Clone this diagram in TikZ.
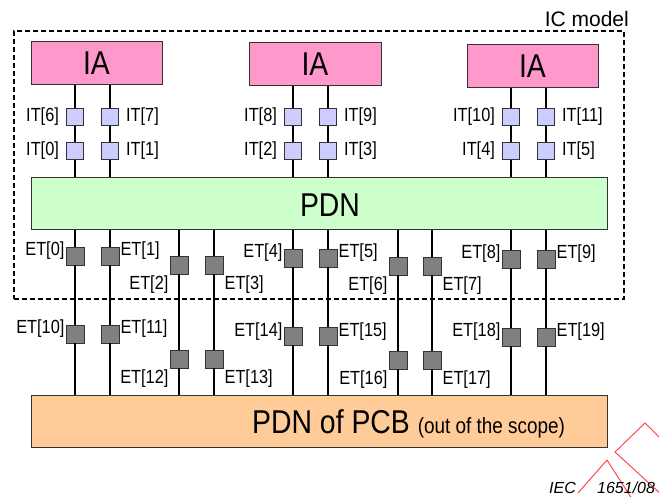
\documentclass[tikz,border=0pt]{standalone}
\usepackage{fontspec}
\setmainfont[FakeStretch=0.86]{Liberation Sans}
\newfontfamily\plainsans{Liberation Sans}
\usetikzlibrary{positioning}

\definecolor{iaPink}{HTML}{FF99CC}
\definecolor{pdnGreen}{HTML}{CCFFCC}
\definecolor{pcbOrange}{HTML}{FFCC99}
\definecolor{itLilac}{HTML}{CCCCFF}
\definecolor{etGray}{HTML}{808080}
\definecolor{boxEdge}{HTML}{333333}
\definecolor{iecRed}{HTML}{FF3B3B}

\tikzset{
  blockbox/.style={draw=boxEdge, line width=1pt, inner sep=0pt},
  itsq/.style={draw=boxEdge, fill=itLilac, line width=0.8pt, minimum size=17pt, inner sep=0pt},
  etsq/.style={draw=boxEdge, fill=etGray, line width=0.8pt, minimum size=18pt, inner sep=0pt},
  wire/.style={line width=1.2pt},
  tlabel/.style={font=\fontsize{19}{21}\selectfont, inner sep=1pt},
  bigtext/.style={font=\fontsize{33}{36}\selectfont},
}

\begin{document}
\begin{tikzpicture}[x=1pt,y=-1pt]
  \path[use as bounding box, fill=white] (0,0) rectangle (659,497);
  \clip (0,0) rectangle (659,497);

  % IC model frame
  \node[draw, dash pattern=on 5pt off 3pt, line width=1.2pt, inner sep=0pt,
        minimum width=610pt, minimum height=268pt] (ic) at (319,165) {};
  \node[anchor=base east, inner sep=0pt, font=\plainsans\fontsize{21}{24}\selectfont]
    (iclbl) at (629,27) {IC model};

  % blocks
  \node[blockbox, fill=iaPink, minimum width=131pt, minimum height=43pt, bigtext] (ia1) at (96.5,63.5) {IA};
  \node[blockbox, fill=iaPink, minimum width=132pt, minimum height=43pt, bigtext] (ia2) at (315,64.5) {IA};
  \node[blockbox, fill=iaPink, minimum width=131pt, minimum height=43pt, bigtext] (ia3) at (532.5,66.5) {IA};

  \node[blockbox, fill=pdnGreen, minimum width=576pt, minimum height=52pt] (pdn) at (319,204) {};
  \node[bigtext] (pdnlbl) at (330,205) {PDN};

  \node[blockbox, fill=pcbOrange, minimum width=576pt, minimum height=52pt] (pcb) at (319,421) {};
  \node[anchor=base west, inner sep=0pt] (pcblbl) at (252,433)
    {\fontsize{33}{36}\selectfont PDN of PCB \fontsize{22}{24}\selectfont(out of the scope)};

  % internal terminals
  \foreach \wx/\up/\lo/\src/\side/\anch/\dx in {75/6/0/ia1/west/east/-6, 110/7/1/ia1/east/west/6,
      293/8/2/ia2/west/east/-6, 328/9/3/ia2/east/west/6,
      511/10/4/ia3/west/east/-6, 546/11/5/ia3/east/west/6} {
    \node[itsq] (it\up) at (\wx,117) {};
    \node[itsq] (it\lo) at (\wx,151) {};
    \draw[wire] (\src.south -| it\up) -- (it\up.north) (it\up.south) -- (it\lo.north)
      (it\lo.south) -- (pdn.north -| it\lo);
    \node[tlabel, anchor=\anch] (lbl-it\up) at ([xshift=\dx pt]it\up.\side) {IT[\up]};
    \node[tlabel, anchor=\anch] (lbl-it\lo) at ([xshift=\dx pt]it\lo.\side) {IT[\lo]};
  }

  % external terminals
  \foreach \wx/\up/\yu/\lo/\yl/\at/\an in {75/0/256/10/334/west/base east, 110/1/256/11/334/east/base west,
      179/2/265/12/359/south west/north east, 214/3/265/13/359/south east/north west,
      293/4/258/14/336/west/base east, 328/5/258/15/336/east/base west,
      398/6/266/16/360/south west/north east, 432/7/266/17/360/south east/north west,
      511/8/259/18/337/west/base east, 546/9/259/19/337/east/base west} {
    \node[etsq] (et\up) at (\wx,\yu) {};
    \node[etsq] (et\lo) at (\wx,\yl) {};
    \draw[wire] (pdn.south -| et\up) -- (et\up.north) (et\up.south) -- (et\lo.north)
      (et\lo.south) -- (pcb.north -| et\lo);
    \node[tlabel, anchor=\an] (lbl-et\up) at (et\up.\at) {ET[\up]};
    \node[tlabel, anchor=\an] (lbl-et\lo) at (et\lo.\at) {ET[\lo]};
  }

  % IEC mark
  \draw[iecRed, line width=0.9pt] (578,493) -- (607,460) -- (632,499);
  \draw[iecRed, line width=0.9pt] (662,440) -- (645,423) -- (615,452) -- (662,495);
  \node[anchor=base west, inner sep=0pt, font=\plainsans\itshape\fontsize{16}{18}\selectfont]
    (ieclbl) at (549,493) {IEC};
  \node[anchor=base west, inner sep=0pt, font=\plainsans\itshape\fontsize{16}{18}\selectfont]
    (iecnum) at (597,493) {1651/08};
\end{tikzpicture}
\end{document}
